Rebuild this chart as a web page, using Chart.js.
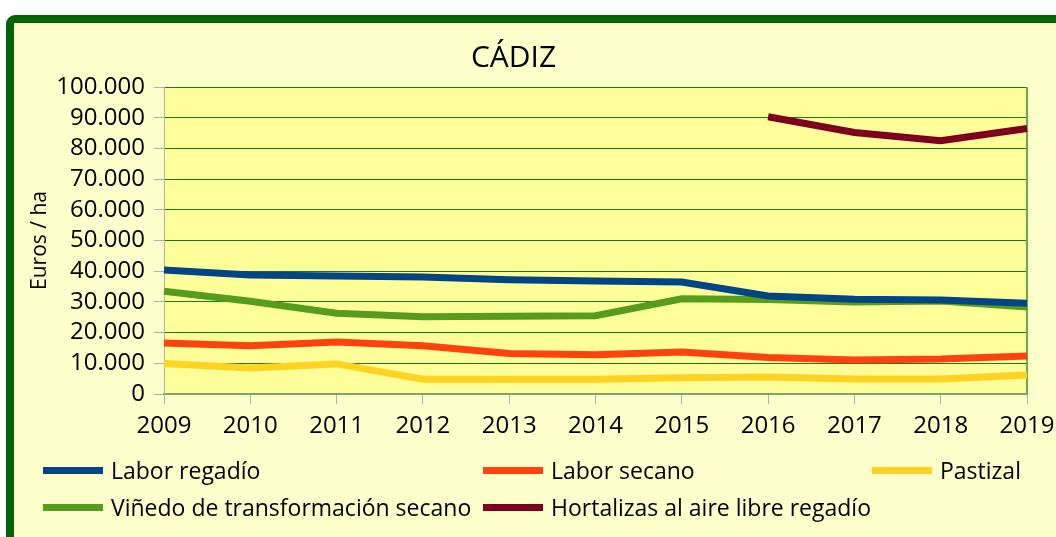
<!DOCTYPE html>
<html>
<head>
<meta charset="utf-8">
<script src="https://cdn.jsdelivr.net/npm/chart.js@4/dist/chart.umd.min.js"></script>
<style>
  body { margin: 0; background: #fff; width: 1056px; height: 537px; overflow: hidden; position: relative; }
  #frame {
    position: absolute; left: 6px; top: 15px; width: 1100px; height: 600px;
    border: 8px solid #006400; border-radius: 9px; background: #FFFFCC;
  }
  #cadiz { position: absolute; left: 0; top: 0; }
  .leg { position: absolute; font-family: "Open Sans", sans-serif; font-size: 23px; color: #000;
         display: flex; align-items: center; white-space: nowrap; height: 30px; }
  .leg i { display: inline-block; width: 60px; height: 7px; margin-right: 8px; }
</style>
</head>
<body>
<div id="frame"></div>
<canvas id="cadiz" width="1056" height="537"></canvas>
<div id="legend"></div>
<script>
const years = ["2009", "2010", "2011", "2012", "2013", "2014", "2015", "2016", "2017", "2018", "2019"];

const laborRegadio = [40400, 38800, 38400, 38100, 37200, 36800, 36500, 31900, 30900, 30600, 29600];
const laborSecano = [16600, 15700, 16900, 15700, 13200, 12800, 13700, 11900, 11100, 11400, 12400];
const pastizal = [9900, 8500, 9800, 4800, 4800, 4800, 5300, 5500, 4900, 4900, 6200];
const vinedoSecano = [33500, 30200, 26300, 25200, 25300, 25500, 31000, 30800, 30000, 30300, 28300];
const hortalizas = [null, null, null, null, null, null, null, 90300, 85200, 82500, 86500];

const yTicks = [0, 10000, 20000, 30000, 40000, 50000, 60000, 70000, 80000, 90000, 100000];

const series = [
  { label: "Labor regadío", data: laborRegadio, color: "#004586", legend: [43, 470] },
  { label: "Labor secano", data: laborSecano, color: "#FF420E", legend: [483, 470] },
  { label: "Pastizal", data: pastizal, color: "#FFD320", legend: [872, 470] },
  { label: "Viñedo de transformación secano", data: vinedoSecano, color: "#579D1C", legend: [43, 507] },
  { label: "Hortalizas al aire libre regadío", data: hortalizas, color: "#7E0021", legend: [483, 507] },
];

// 100000 -> "100.000"
const fmt = (v) => String(v).replace(/\B(?=(\d{3})+(?!\d))/g, ".");

// plot background + right edge
const plotBg = {
  id: "plotBg",
  beforeDraw(chart) {
    const { ctx, chartArea: a } = chart;
    ctx.save();
    ctx.fillStyle = "#FFFF99";
    ctx.fillRect(a.left, a.top, a.right - a.left, a.bottom - a.top);
    ctx.restore();
  },
  beforeDatasetsDraw(chart) {
    const { ctx, chartArea: a } = chart;
    ctx.save();
    ctx.strokeStyle = "#6FA84A";
    ctx.lineWidth = 2;
    ctx.beginPath();
    ctx.moveTo(a.right, a.top);
    ctx.lineTo(a.right, a.bottom);
    ctx.stroke();
    ctx.restore();
  },
};

Chart.defaults.color = "#000";
Chart.defaults.font.family = "'Open Sans', sans-serif";

new Chart(document.getElementById("cadiz"), {
  type: "line",
  data: {
    labels: years,
    datasets: series.map((s) => ({
      label: s.label,
      data: s.data,
      borderColor: s.color,
      backgroundColor: s.color,
      borderWidth: 7,
      borderCapStyle: "butt",
      pointRadius: 0,
      tension: 0,
      spanGaps: false,
    })),
  },
  options: {
    responsive: false,
    animation: false,
    layout: { padding: { top: 0, left: 0, right: 29, bottom: 93 } },
    plugins: {
      legend: { display: false },
      tooltip: { enabled: false },
      title: {
        display: true,
        text: "CÁDIZ",
        color: "#000",
        font: { size: 30, weight: "normal" },
        padding: { top: 40, bottom: 11 },
      },
    },
    scales: {
      x: {
        grid: { drawOnChartArea: false, tickLength: 10, tickColor: "#B0B0B0" },
        border: { color: "#7FA46B", width: 2 },
        ticks: { font: { size: 24 }, padding: 8, maxRotation: 0, autoSkip: false },
        afterFit: (s) => { s.height = 50; s.paddingLeft = 0; s.paddingRight = 0; },
      },
      y: {
        min: 0,
        max: 100000,
        afterBuildTicks: (s) => { s.ticks = yTicks.map((v) => ({ value: v })); },
        grid: { color: "#1E7A1E", lineWidth: 1, tickLength: 10, tickColor: "#B0B0B0" },
        border: { color: "#B0B0B0", width: 1 },
        ticks: { font: { size: 24 }, padding: 9, autoSkip: false, callback: (v) => fmt(v) },
        title: { display: true, text: "Euros / ha", font: { size: 21 }, padding: { top: 27, bottom: 0 } },
        afterFit: (s) => { s.width = 164; s.paddingTop = 0; s.paddingBottom = 0; },
      },
    },
  },
  plugins: [plotBg],
});

// legend laid out like the original grid
const legendBox = document.getElementById("legend");
series.forEach((s) => {
  const d = document.createElement("div");
  d.className = "leg";
  d.style.left = s.legend[0] + "px";
  d.style.top = (s.legend[1] - 15) + "px";
  d.innerHTML = '<i style="background:' + s.color + '"></i><span></span>';
  d.querySelector("span").textContent = s.label;
  legendBox.appendChild(d);
});
</script>
</body>
</html>
